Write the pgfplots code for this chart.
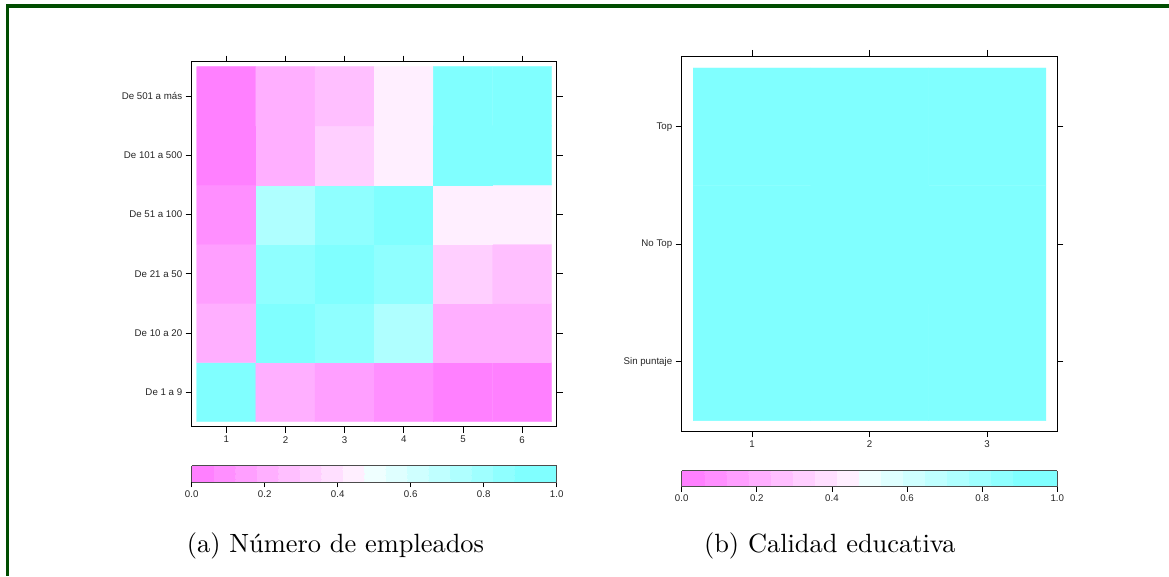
\documentclass[border=0pt]{standalone}
\usepackage{fontspec}
\usepackage{pgfplots}
\pgfplotsset{compat=1.18}
\newfontfamily\lsans{Liberation Sans}
\newfontfamily\capfont{lmroman10-regular}[Extension=.otf]
\definecolor{framegreen}{RGB}{0,77,0}
\pgfplotsset{
  colormap={cmrev}{rgb255=(255,128,255) rgb255=(255,143,255) rgb255=(255,159,255) rgb255=(255,175,255) rgb255=(255,191,255) rgb255=(255,207,255) rgb255=(255,223,255) rgb255=(255,239,255) rgb255=(239,255,255) rgb255=(223,255,255) rgb255=(207,255,255) rgb255=(191,255,255) rgb255=(175,255,255) rgb255=(159,255,255) rgb255=(143,255,255) rgb255=(128,255,255) rgb255=(128,255,255)},
  lattice/.style={
    scale only axis, anchor=south west,
    colormap name=cmrev, colormap access=piecewise constant,
    point meta min=0, point meta max=1,
    tick align=outside, tick pos=both, major tick length=6pt,
    tick style={black, line width=0.8pt},
    axis line style={line width=0.9pt},
    ticklabel style={font=\lsans\fontsize{9.7}{11}\selectfont, text=black!85},
    /pgf/number format/assume math mode=true,
    colorbar horizontal,
    colorbar style={
      at={(parent axis.south west)}, anchor=north west,
      scale only axis,
      xtick={0,0.2,0.4,0.6,0.8,1},
      xticklabels={0.0,0.2,0.4,0.6,0.8,1.0},
      xtick pos=left, ytick=\empty,
      tick align=outside, major tick length=5pt,
      tick style={black, line width=0.8pt},
      axis line style={draw=black!70, line width=0.9pt},
      xticklabel style={font=\lsans\fontsize{9.7}{11}\selectfont, text=black!85},
    },
  }
}
\begin{document}
\begin{tikzpicture}
\path[use as bounding box] (0,0) rectangle (1169pt,576pt);
\fill[framegreen] (6pt,568pt) rectangle (1169pt,572pt);
\fill[framegreen] (6pt,0pt) rectangle (9pt,572pt);

\begin{axis}[lattice, at={(191.7pt,149.3pt)}, width=365pt, height=365pt,
  xmin=0.4155, xmax=6.5845, ymin=0.4155, ymax=6.5845,
  xtick={1,2,3,4,5,6}, ytick={1,2,3,4,5,6},
  yticklabels={De 1 a 9, De 10 a 20, De 21 a 50, De 51 a 100, De 101 a 500, De 501 a más},
  colorbar style={width=365pt, height=16.7pt, yshift=-30.3pt}]
\addplot[matrix plot*, mesh/cols=6, point meta=explicit] table[meta=c] {
x y c
1 1 1.00
2 1 0.22
3 1 0.16
4 1 0.09
5 1 0.00
6 1 0.00
1 2 0.22
2 2 1.00
3 2 0.84
4 2 0.72
5 2 0.22
6 2 0.22
1 3 0.16
2 3 0.84
3 3 1.00
4 3 0.84
5 3 0.34
6 3 0.28
1 4 0.09
2 4 0.72
3 4 0.84
4 4 1.00
5 4 0.47
6 4 0.47
1 5 0.00
2 5 0.22
3 5 0.34
4 5 0.47
5 5 1.00
6 5 1.00
1 6 0.00
2 6 0.22
3 6 0.28
4 6 0.47
5 6 1.00
6 6 1.00
};
\end{axis}

\begin{axis}[lattice, at={(681.7pt,145pt)}, width=375.6pt, height=375pt,
  xmin=0.402, xmax=3.597, ymin=0.412, ymax=3.602,
  xtick={1,2,3}, ytick={1,2,3},
  yticklabels={Sin puntaje, No Top, Top},
  colorbar style={width=375.6pt, height=16pt, yshift=-31pt}]
\addplot[matrix plot*, mesh/cols=3, point meta=explicit] table[meta=c] {
x y c
1 1 1.00
2 1 1.00
3 1 1.00
1 2 1.00
2 2 1.00
3 2 1.00
1 3 1.00
2 3 1.00
3 3 1.00
};
\end{axis}

\node[anchor=base] at (335.5pt,23.5pt) {\capfont\fontsize{26.4}{30}\selectfont (a) Número de empleados};
\node[anchor=base] at (829.8pt,23.5pt) {\capfont\fontsize{26.4}{30}\selectfont (b) Calidad educativa};
\end{tikzpicture}
\end{document}
